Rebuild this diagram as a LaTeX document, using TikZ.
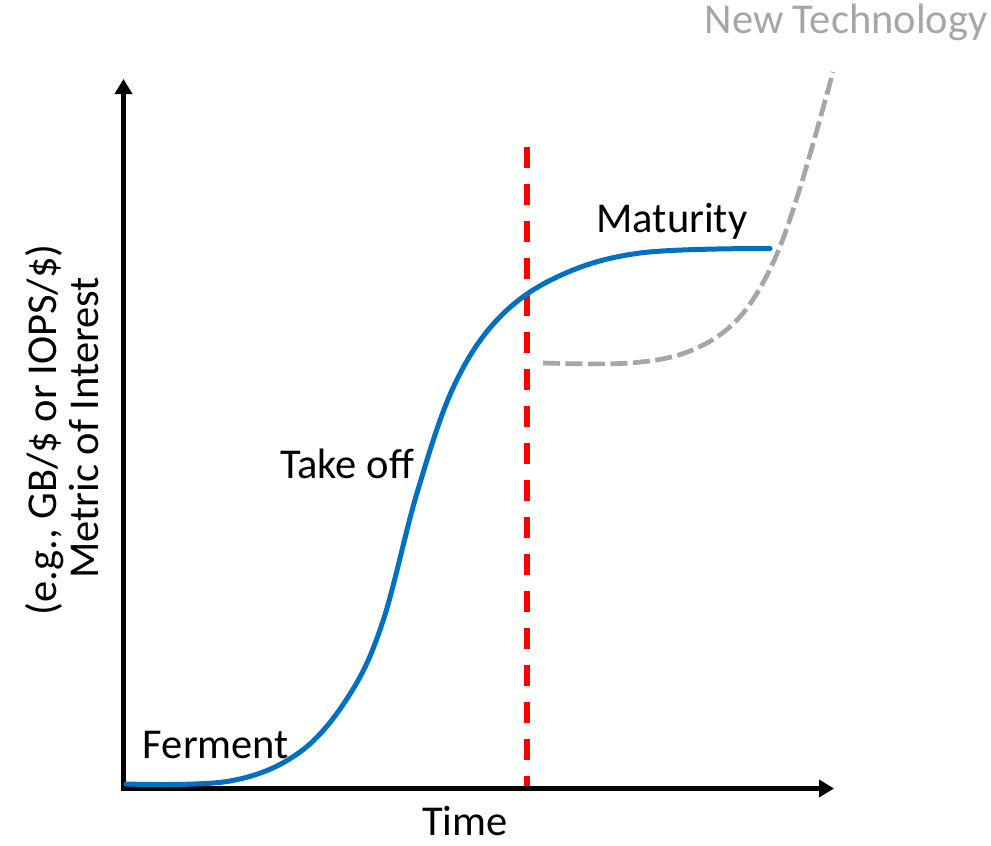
\documentclass[tikz,border=0pt]{standalone}
\usepackage{fontspec}
\setmainfont{Carlito}
\usetikzlibrary{arrows.meta}
\definecolor{curveblue}{HTML}{0070C0}
\definecolor{divred}{HTML}{FF0000}
\definecolor{newgray}{HTML}{A6A6A6}
\tikzset{
  axisline/.style={line width=5pt, -{Triangle[width=17pt,length=15pt]}},
  lbl/.style={font=\fontsize{42.5}{43}\selectfont, anchor=base, inner sep=0pt},
  sblue/.style={line width=5pt, curveblue, line cap=round},
  rdash/.style={line width=5.5pt, divred, dash pattern=on 21pt off 16pt},
  gdash/.style={line width=4.7pt, newgray, dash pattern=on 17pt off 5.5pt}
}
\begin{document}
\begin{tikzpicture}[x=1pt,y=-1pt]
\useasboundingbox (0,0) rectangle (991,846);
\coordinate (origin) at (123.5,788.5);
\coordinate (ytip) at (123.5,79);
\coordinate (xtip) at (834,788.5);
\coordinate (redtop) at (527,147);
\coordinate (redbot) at (527,786);
% axes
\draw[axisline] ([yshift=-2.5pt]origin) -- (ytip);
\draw[axisline] ([xshift=-2.5pt]origin) -- (xtip);
% divider
\draw[rdash] (redtop) -- (redbot);
% new technology curve
\draw[gdash] plot[smooth, tension=0.6] coordinates {(543,363) (630,363) (690,351) (737,320) (772,265) (800,188) (833,72)};
% S-curve
\draw[sblue] plot[smooth, tension=0.6] coordinates {(126,784) (230,781) (300,752) (350,694) (383,621) (417,493) (453,388) (497,320) (557,277) (640,253) (770,248.5)};
% labels
\node[lbl, newgray] (newtech) at (846,33) {New Technology};
\node[lbl] (maturity) at (672,232) {Maturity};
\node[lbl] (takeoff) at (347,478) {Take off};
\node[lbl] (ferment) at (216,758) {Ferment};
\node[lbl] (time) at (465,835) {Time};
\node[lbl, rotate=90] (ylab1) at (56,430) {(e.g., GB/\$ or IOPS/\$)};
\node[lbl, rotate=90] (ylab2) at (98,428) {Metric of Interest};
\end{tikzpicture}
\end{document}
